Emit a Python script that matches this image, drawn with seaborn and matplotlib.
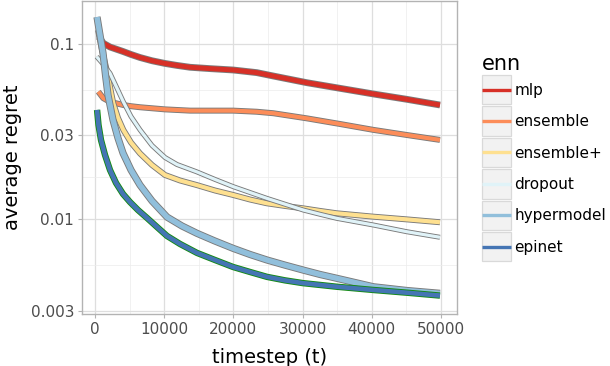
import numpy as np
import pandas as pd
import matplotlib
matplotlib.use("Agg")
import matplotlib.pyplot as plt
import matplotlib.patheffects as pe
from matplotlib.patches import Rectangle
from matplotlib.lines import Line2D
import seaborn as sns

# ---------------- data ----------------
methods = ["mlp", "ensemble", "ensemble+", "dropout", "hypermodel", "epinet"]
colors = ["#d73027", "#fc8d59", "#fee090", "#e0f3f8", "#91bfdb", "#4575b4"]

mlp_t = [580, 867, 1200, 2168, 4046, 5202, 6502, 8236, 10115, 11849, 13730, 16618, 19980,
         23370, 25770, 30590, 35400, 40220, 45040, 49850]
mlp_r = [0.1096, 0.1054, 0.1009, 0.0961, 0.0906, 0.0871, 0.0837, 0.0802, 0.0774, 0.0754,
         0.0736, 0.0723, 0.0710, 0.0686, 0.0656, 0.0601, 0.0558, 0.0518, 0.0483, 0.0448]

ens_t = [480, 1200, 2168, 4090, 5202, 6500, 10115, 13730, 19980, 23370, 25770, 30590,
         35400, 40220, 45040, 49850]
ens_r = [0.0534, 0.0490, 0.0467, 0.0448, 0.0441, 0.0435, 0.0423, 0.0416, 0.0416, 0.0410,
         0.0402, 0.0376, 0.0349, 0.0323, 0.0302, 0.0283]

ensp_t = [434, 1012, 1690, 2168, 2645, 3323, 4090, 5202, 6502, 8236, 10115, 12283, 14700,
          17340, 19980, 22398, 24810, 27455, 30100, 32512, 34920, 40220, 45040, 49850]
ensp_r = [0.1202, 0.0924, 0.0710, 0.0568, 0.0458, 0.0378, 0.0323, 0.02735, 0.0237, 0.02035,
          0.01784, 0.0166, 0.01563, 0.01455, 0.01371, 0.01292, 0.0123, 0.01187, 0.0115,
          0.01112, 0.01078, 0.01031, 0.00995, 0.00958]

drop_t = [245, 1156, 2168, 3035, 4090, 5202, 6502, 8236, 10115, 11849, 14700, 17340, 19980,
          22398, 24810, 27455, 30100, 32512, 34920, 40220, 45040, 49850]
drop_r = [0.0846, 0.0769, 0.0680, 0.0575, 0.0468, 0.0385, 0.0323, 0.0263, 0.02246, 0.02048,
          0.0186, 0.01683, 0.0153, 0.01417, 0.01313, 0.01215, 0.01125, 0.01064, 0.01009,
          0.00924, 0.00846, 0.00786]

hyp_t = [290, 722, 1156, 1517, 1878, 2601, 3323, 4046, 5202, 6502, 8236, 10404, 12571,
         14739, 17340, 19941, 22398, 24854, 27455, 30056, 32512, 34969, 40221, 45134, 49852]
hyp_r = [0.1426, 0.1125, 0.0888, 0.0665, 0.0511, 0.0368, 0.0290, 0.0238, 0.01905, 0.01563,
         0.01268, 0.01026, 0.00912, 0.00828, 0.00748, 0.00680, 0.00627, 0.00583, 0.00545,
         0.00511, 0.00482, 0.00458, 0.00410, 0.0039, 0.00376]

epi_t = [300, 506, 867, 1445, 2168, 3035, 4046, 5058, 6214, 7514, 8959, 10404, 12283, 14739,
         17340, 19941, 22398, 24854, 27455, 30056, 34969, 40221, 45134, 49852]
epi_r = [0.0420, 0.03445, 0.02827, 0.02322, 0.01905, 0.01607, 0.0139, 0.0125, 0.01125,
         0.01014, 0.0090, 0.0080, 0.0072, 0.0064, 0.00583, 0.00532, 0.00498, 0.00467,
         0.00446, 0.00430, 0.00410, 0.00393, 0.00379, 0.00365]

series_t = [mlp_t, ens_t, ensp_t, drop_t, hyp_t, epi_t]
series_r = [mlp_r, ens_r, ensp_r, drop_r, hyp_r, epi_r]

x_ticks = [0, 10000, 20000, 30000, 40000, 50000]
x_ticklabels = ["0", "10000", "20000", "30000", "40000", "50000"]
y_ticks = [0.003, 0.01, 0.03, 0.1]
y_ticklabels = ["0.003", "0.01", "0.03", "0.1"]

# ---------------- styling ----------------
line_w = [3.6, 3.0, 3.0, 2.3, 3.9, 3.3]
outline = ["#7a7a7a"] * 5 + ["#138a13"]

W, H = 610, 366
fig = plt.figure(figsize=(W / 100, H / 100), dpi=100)
fig.patch.set_facecolor("white")

def fx(px):
    return px / W

def fy(py):
    return 1 - py / H

ax = fig.add_axes([fx(81.7), fy(314), fx(457) - fx(81.7), fy(1) - fy(314)])
ax.set_facecolor("white")
ax.set_yscale("log")

for name, t, r, c, lw, oc in zip(methods, series_t, series_r, colors, line_w, outline):
    df = pd.DataFrame({"t": t, "regret": r})
    sns.lineplot(data=df, x="t", y="regret", color=c, linewidth=lw,
                 estimator=None, sort=False, ax=ax, legend=False)
    ln = ax.lines[-1]
    ln.set_solid_capstyle("butt")
    ln.set_solid_joinstyle("round")
    ln.set_path_effects([pe.Stroke(linewidth=lw + 1.3, foreground=oc, joinstyle="round"),
                         pe.Normal()])

ax.set_xlim(-1922, 52310)
ax.set_ylim(0.002865, 0.176)

ax.set_xticks(x_ticks)
ax.set_xticklabels(x_ticklabels)
ax.set_xticks([5000, 15000, 25000, 35000, 45000], minor=True)
ax.set_yticks(y_ticks)
ax.set_yticklabels(y_ticklabels)
ymin_minor = [np.sqrt(0.003 * 0.01), np.sqrt(0.01 * 0.03), np.sqrt(0.03 * 0.1)]
ax.set_yticks(ymin_minor, minor=True)
ax.yaxis.set_minor_formatter(matplotlib.ticker.NullFormatter())

ax.set_axisbelow(True)
ax.grid(which="major", color="#dedede", linewidth=0.9)
ax.grid(which="minor", color="#ececec", linewidth=0.5)
for s in ax.spines.values():
    s.set_color("#b3b3b3")
    s.set_linewidth(1.0)
ax.tick_params(which="major", length=2.9, width=0.8, color="#b3b3b3", pad=2.5,
               labelcolor="#4d4d4d", labelsize=11)
ax.tick_params(which="minor", length=0)

ax.set_xlabel("timestep (t)", fontsize=14, color="black", labelpad=8.5)
ax.set_ylabel("average regret", fontsize=14, color="black", labelpad=6)

# ---------------- legend (ggplot-style keys) ----------------
fig.text(fx(481.5), fy(70), "enn", fontsize=15, ha="left", va="baseline", color="black")
key_left, key_w, key_h, key_top0, key_step = 481.5, 29.5, 29.3, 75.0, 31.4
for i, (name, c) in enumerate(zip(methods, colors)):
    top = key_top0 + i * key_step
    rect = Rectangle((fx(key_left), fy(top + key_h)), fx(key_w), key_h / H,
                     transform=fig.transFigure, facecolor="#f2f2f2",
                     edgecolor="#d9d9d9", linewidth=0.9)
    fig.patches.append(rect)
    cy = top + key_h / 2
    fig.lines.append(Line2D([fx(key_left + 0.5), fx(key_left + key_w - 0.5)], [fy(cy), fy(cy)],
                            transform=fig.transFigure, color=c, linewidth=2.4,
                            solid_capstyle="butt"))
    fig.text(fx(514.5), fy(cy + 5.2), name, fontsize=11, ha="left", va="baseline", color="black")

fig.savefig("out.png", dpi=100)
